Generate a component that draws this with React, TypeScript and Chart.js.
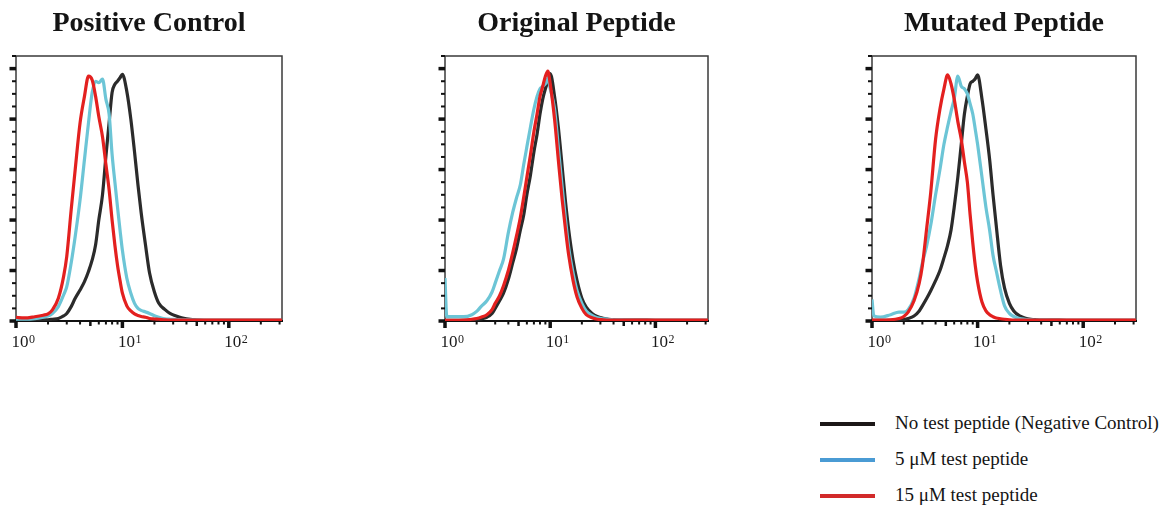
import React, { useEffect, useRef } from 'react';
import { Chart, registerables } from 'chart.js';

Chart.register(...registerables);

const FONT = '"Liberation Serif", "Times New Roman", Times, serif';
Chart.defaults.font.family = FONT;
Chart.defaults.color = '#1a1a1a';

const TITLES = ['Positive Control', 'Original Peptide', 'Mutated Peptide'];
const SERIES_NAMES = ['No test peptide (Negative Control)', '5 μM test peptide', '15 μM test peptide'];

// fluorescence intensity (log axis) sample positions
const X_VALUES = [1, 1.04, 1.2, 1.5, 1.8, 2, 2.2, 2.5, 2.8, 3, 3.3, 3.6, 4, 4.4, 4.8, 5.2, 5.6, 6, 6.5, 7, 7.5, 8, 8.5, 9, 9.5, 10, 11, 12, 13, 14, 15, 16.5, 18, 20, 22, 25, 28, 32, 36, 40, 50, 70, 100, 150, 220, 316];

// Positive Control
const POS_NEG = [0.4, 0.4, 0.4, 0.4, 0.5, 0.5, 0.7, 1, 2, 3, 5.7, 9, 12.3, 15.6, 19.6, 24.2, 30.2, 40, 50, 65.3, 78.5, 90.5, 93.8, 95, 96.4, 97.7, 91, 80, 67, 54, 43, 30, 19, 11.5, 7, 4.6, 3, 2, 1.3, 0.9, 0.4, 0.3, 0.3, 0.3, 0.3, 0.3];
const POS_5 = [0.7, 0.7, 0.7, 0.9, 1.5, 2, 3, 5.7, 10.3, 13.6, 23, 33.5, 48, 64, 78.5, 90.5, 95, 94.4, 95.8, 87.8, 82, 66, 55, 45, 36, 28, 17, 11, 7, 5, 4.2, 3.6, 3, 2.1, 1.5, 0.9, 0.7, 0.6, 0.5, 0.5, 0.4, 0.3, 0.3, 0.3, 0.3, 0.3];
const POS_15 = [1.5, 1.4, 1.2, 1.7, 2.3, 2.8, 4.4, 9, 17.6, 25.6, 44, 60, 78.5, 89, 97, 95.5, 89, 81, 73, 62, 52, 40, 30, 22, 16, 11, 6, 4, 2.8, 2.2, 1.8, 1.5, 1, 0.8, 0.7, 0.5, 0.4, 0.4, 0.4, 0.4, 0.4, 0.4, 0.4, 0.4, 0.4, 0.4];

// Original Peptide
const ORIG_NEG = [0.3, 0.3, 0.3, 0.3, 0.4, 0.5, 0.8, 1.5, 3, 5, 8, 11, 16.5, 23, 29, 36, 42, 50, 58, 67, 74, 82, 88, 92, 95, 98, 89, 76, 61, 47, 36, 24, 16, 9, 5.5, 3, 1.8, 1.1, 0.7, 0.5, 0.4, 0.4, 0.3, 0.3, 0.3, 0.3];
const ORIG_5 = [17, 1.7, 1.7, 1.7, 2.5, 3.8, 5.7, 8, 11.5, 15, 20, 24.5, 35, 43, 49, 54, 62, 69, 77, 84, 89, 92, 93, 94, 96, 92, 84, 68, 53, 40, 29, 19, 12, 7, 4, 2.2, 1.3, 0.9, 0.6, 0.5, 0.4, 0.3, 0.3, 0.3, 0.3, 0.3];
const ORIG_15 = [0.3, 0.3, 0.3, 0.4, 0.7, 1, 1.5, 2.5, 4.5, 7, 10, 14, 20, 27, 34, 41, 49, 57, 66, 75, 82, 89, 93, 97, 99, 94, 80, 63, 48, 36, 26, 16, 9.5, 5, 2.5, 1.3, 0.7, 0.5, 0.4, 0.4, 0.4, 0.4, 0.4, 0.4, 0.4, 0.4];

// Mutated Peptide
const MUT_NEG = [0.3, 0.3, 0.3, 0.3, 0.4, 0.6, 1, 2, 4, 6, 9, 12, 16, 20, 25, 30, 36, 45, 57, 70, 82, 89, 94, 95, 96, 97.5, 88, 76, 64, 50, 38, 22, 13, 7, 4, 2, 1.2, 0.7, 0.5, 0.4, 0.4, 0.3, 0.3, 0.3, 0.3, 0.3];
const MUT_5 = [8.5, 2, 1.5, 2.5, 3.5, 3.5, 4.5, 9, 17, 23, 30, 38, 50, 60, 70, 77, 83, 88, 97, 93, 92, 90, 86, 82, 76, 70, 57, 45, 36, 26, 20, 12, 6, 3, 1.8, 1, 0.7, 0.5, 0.4, 0.4, 0.3, 0.3, 0.3, 0.3, 0.3, 0.3];
const MUT_15 = [0.4, 0.4, 0.4, 0.5, 1, 1.8, 3.5, 8, 15, 22, 37, 51, 72, 84, 92, 97.5, 94, 88, 79, 72, 63, 55, 42, 31, 22, 15.5, 7.5, 4, 2.5, 1.7, 1.2, 0.9, 0.7, 0.5, 0.4, 0.4, 0.4, 0.4, 0.4, 0.4, 0.4, 0.4, 0.4, 0.4, 0.4, 0.4];

// axes
const X_MAJOR = [1, 10, 100];
const X_TICK_BASE = '10';
const X_TICK_EXPONENTS = ['0', '1', '2'];
const X_MINOR = [2, 3, 4, 5, 6, 7, 8, 9, 20, 30, 40, 50, 60, 70, 80, 90, 200, 300];
const Y_TICKS = [0, 5, 10, 15, 20, 25, 30, 35, 40, 45, 50, 55, 60, 65, 70, 75, 80, 85, 90, 95, 100, 105];

const LINE_COLORS = ['#2b2b2b', '#6cc5d6', '#e3201f'];
const LEGEND_COLORS = ['#1c1818', '#4a9bd4', '#d22a2a'];

const PANELS = [
  { title: TITLES[0], series: [POS_NEG, POS_5, POS_15], left: 0, width: 298 },
  { title: TITLES[1], series: [ORIG_NEG, ORIG_5, ORIG_15], left: 429, width: 295 },
  { title: TITLES[2], series: [MUT_NEG, MUT_5, MUT_15], left: 856, width: 296 },
];

const framePlugin = {
  id: 'frame',
  beforeDatasetsDraw(chart: any) {
    const { ctx, chartArea: a, scales } = chart;
    ctx.save();
    ctx.strokeStyle = '#3a3a3a';
    ctx.lineWidth = 1.5;
    ctx.strokeRect(a.left, a.top, a.right - a.left, a.bottom - a.top);
    ctx.strokeStyle = '#111';
    ctx.lineWidth = 2;
    ctx.beginPath();
    ctx.moveTo(a.left - 1, a.bottom);
    ctx.lineTo(a.right + 1, a.bottom);
    ctx.stroke();
    const y = scales.y;
    for (const v of Y_TICKS) {
      const py = y.getPixelForValue(v);
      const major = v % 20 === 0;
      ctx.lineWidth = major ? 3.5 : 2;
      ctx.beginPath();
      ctx.moveTo(a.left - (major ? 6.5 : 4), py);
      ctx.lineTo(a.left, py);
      ctx.stroke();
    }
    const x = scales.x;
    for (const v of X_MAJOR) {
      const px = x.getPixelForValue(v);
      ctx.lineWidth = 3.5;
      ctx.beginPath();
      ctx.moveTo(px, a.bottom);
      ctx.lineTo(px, a.bottom + 7);
      ctx.stroke();
    }
    for (const v of X_MINOR) {
      const px = x.getPixelForValue(v);
      const mid = v === 5 || v === 50;
      ctx.lineWidth = mid ? 2.5 : 2;
      ctx.beginPath();
      ctx.moveTo(px, a.bottom);
      ctx.lineTo(px, a.bottom + (mid ? 5 : 3.5));
      ctx.stroke();
    }
    // tick labels: 10 with superscript exponent
    ctx.fillStyle = '#1a1a1a';
    ctx.textAlign = 'left';
    ctx.textBaseline = 'alphabetic';
    X_MAJOR.forEach((v, i) => {
      const px = x.getPixelForValue(v);
      const baseY = a.bottom + 26.3;
      ctx.font = `17px ${FONT}`;
      ctx.fillText(X_TICK_BASE, px - 4.5, baseY);
      const w = ctx.measureText(X_TICK_BASE).width;
      ctx.font = `12px ${FONT}`;
      ctx.fillText(X_TICK_EXPONENTS[i], px - 4.5 + w + 0.5, baseY - 4.5);
    });
    ctx.restore();
  },
};

function Panel({ title, series, left, width }: { title: string; series: number[][]; left: number; width: number }) {
  const ref = useRef<HTMLCanvasElement | null>(null);
  useEffect(() => {
    if (!ref.current) return;
    const order = [3, 2, 1];
    const chart = new Chart(ref.current, {
      type: 'line',
      data: {
        datasets: series.map((vals, i) => ({
          label: SERIES_NAMES[i],
          data: X_VALUES.map((xv, j) => ({ x: xv, y: vals[j] })),
          borderColor: LINE_COLORS[i],
          backgroundColor: LINE_COLORS[i],
          borderWidth: 3.2,
          pointRadius: 0,
          fill: false,
          order: order[i],
          cubicInterpolationMode: 'monotone' as const,
          borderJoinStyle: 'round' as const,
        })),
      },
      options: {
        responsive: false,
        animation: false,
        layout: { padding: { left: 16, right: 16, top: 0, bottom: 9 } },
        plugins: {
          legend: { display: false },
          tooltip: { enabled: false },
          title: {
            display: true,
            text: title,
            color: '#141414',
            font: { family: FONT, size: 28, weight: 'bold' },
            padding: { top: 7, bottom: 15.4 },
          },
        },
        scales: {
          x: {
            type: 'logarithmic',
            min: 1,
            max: 316.2,
            grid: { display: false },
            border: { display: false },
            ticks: { display: false },
            afterBuildTicks: (axis: any) => {
              axis.ticks = X_MAJOR.map((value) => ({ value }));
            },
            afterFit: (axis: any) => {
              axis.height = 30;
              axis.paddingLeft = 0;
              axis.paddingRight = 0;
            },
          },
          y: { type: 'linear', min: 0, max: 105, display: false },
        },
      },
      plugins: [framePlugin],
    } as any);
    return () => chart.destroy();
  }, [title, series]);
  return (
    <canvas
      ref={ref}
      width={width}
      height={360}
      style={{ position: 'absolute', left, top: 0, width, height: 360 }}
    />
  );
}

const LEGEND_Y = [424, 460, 496];

export default function App() {
  return (
    <div style={{ position: 'absolute', left: 0, top: 0, width: 1172, height: 508, background: '#fff', overflow: 'hidden' }}>
      {PANELS.map((p) => (
        <Panel key={p.title} title={p.title} series={p.series} left={p.left} width={p.width} />
      ))}
      {SERIES_NAMES.map((name, i) => (
        <React.Fragment key={name}>
          <div
            style={{
              position: 'absolute',
              left: 820,
              top: LEGEND_Y[i] - 2,
              width: 55,
              height: 4,
              background: LEGEND_COLORS[i],
            }}
          />
          <div
            style={{
              position: 'absolute',
              left: 895,
              top: LEGEND_Y[i] + 5.3 - 17.4,
              fontFamily: FONT,
              fontSize: 19,
              lineHeight: '22px',
              whiteSpace: 'nowrap',
              color: '#141414',
            }}
          >
            {name}
          </div>
        </React.Fragment>
      ))}
    </div>
  );
}
